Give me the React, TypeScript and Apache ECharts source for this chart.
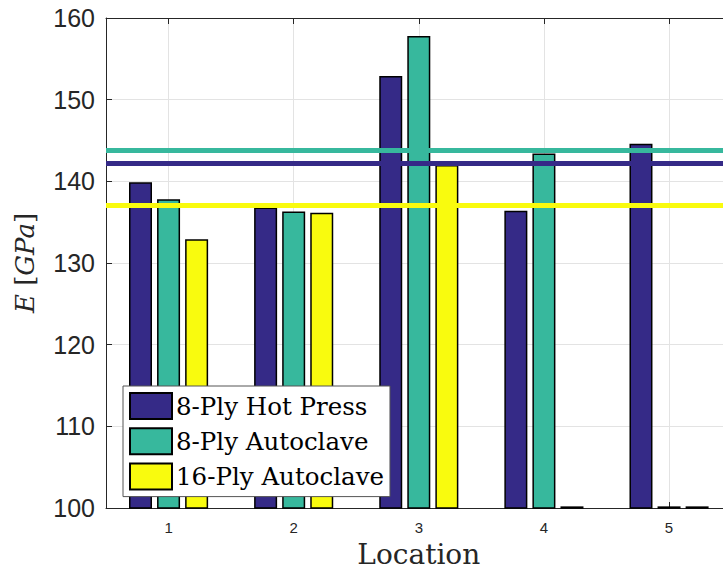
import React, { useEffect, useRef } from "react";
import * as echarts from "echarts";

const categories = ["1", "2", "3", "4", "5"];
const seriesNames = ["8-Ply Hot Press", "8-Ply Autoclave", "16-Ply Autoclave"];
const hotPress8 = [139.9, 136.8, 152.9, 136.4, 144.6];
const autoclave8 = [137.8, 136.3, 157.8, 143.4, 100.2];
const autoclave16 = [132.9, 136.15, 142.0, 100.2, 100.2];
const meanValues = [142.17, 143.85, 137.1];
const colors = ["#352a87", "#37b89d", "#f9fb0e"];
const yMin = 100;
const yMax = 160;
const yStep = 10;

export default function App() {
  const ref = useRef<HTMLDivElement>(null);
  useEffect(() => {
    if (!ref.current) return;
    const chart = echarts.init(ref.current, null, { renderer: "svg" });
    const dataSets = [hotPress8, autoclave8, autoclave16];
    const axisColor = "#262626";
    const gridColor = "#e3e3e3";
    chart.setOption({
      animation: false,
      grid: { left: 106, top: 18, width: 625.6, height: 492, containLabel: false },
      legend: {
        orient: "vertical",
        left: 123,
        top: 386,
        itemWidth: 42,
        itemHeight: 26,
        itemGap: 7.3,
        padding: [6, 6, 6, 6],
        backgroundColor: "#fff",
        borderColor: "#555",
        borderWidth: 1,
        icon: "rect",
        data: seriesNames,
        textStyle: { fontFamily: "DejaVu Serif", fontSize: 24.5, color: "#000", padding: [0, 0, 0, -1] },
        itemStyle: { borderColor: "#000", borderWidth: 2 },
      },
      xAxis: [
        {
          type: "category",
          data: categories,
          position: "bottom",
          axisLine: { show: true, lineStyle: { color: axisColor, width: 1 } },
          axisTick: { show: true, inside: true, length: 6, alignWithLabel: true, lineStyle: { color: axisColor } },
          axisLabel: { fontFamily: "Liberation Sans", fontSize: 15, color: axisColor, margin: 12 },
          splitLine: { show: true, alignWithLabel: true, lineStyle: { color: gridColor, width: 1 } },
          name: "Location",
          nameLocation: "middle",
          nameGap: 32,
          nameTextStyle: { fontFamily: "DejaVu Serif", fontSize: 28, color: axisColor },
        },
        {
          type: "category",
          data: categories,
          position: "top",
          axisLine: { show: true, lineStyle: { color: axisColor, width: 1 } },
          axisTick: { show: true, inside: true, length: 6, alignWithLabel: true, lineStyle: { color: axisColor } },
          axisLabel: { show: false },
          splitLine: { show: false },
        },
      ],
      yAxis: {
        type: "value",
        min: yMin,
        max: yMax,
        interval: yStep,
        axisLine: { show: true, lineStyle: { color: axisColor, width: 1 } },
        axisTick: { show: true, inside: true, length: 6, lineStyle: { color: axisColor } },
        axisLabel: { fontFamily: "Liberation Sans", fontSize: 25, color: axisColor, margin: 11 },
        splitLine: { show: true, lineStyle: { color: gridColor, width: 1 } },
        name: "{i|E} [{i|GPa}]",
        nameLocation: "middle",
        nameRotate: 90,
        nameGap: 68,
        nameTextStyle: {
          fontFamily: "DejaVu Serif",
          fontSize: 26,
          color: axisColor,
          rich: { i: { fontStyle: "italic", fontFamily: "DejaVu Serif", fontSize: 26, color: axisColor } },
        },
      },
      series: seriesNames.map((name, i) => ({
        name,
        type: "bar",
        xAxisIndex: 0,
        data: dataSets[i],
        barWidth: 23,
        barGap: "22%",
        itemStyle: { color: colors[i], borderColor: "#000", borderWidth: 1.5 },
        markLine: {
          silent: true,
          symbol: "none",
          label: { show: false },
          lineStyle: { color: colors[i], width: 5, type: "solid" },
          data: [{ yAxis: meanValues[i] }],
        },
      })),
    });
    return () => chart.dispose();
  }, []);
  return (
    <div style={{ position: "absolute", left: 0, top: 0, width: 723, height: 573, overflow: "hidden" }}>
      <div ref={ref} style={{ position: "absolute", left: 0, top: 0, width: 745, height: 573 }} />
    </div>
  );
}
